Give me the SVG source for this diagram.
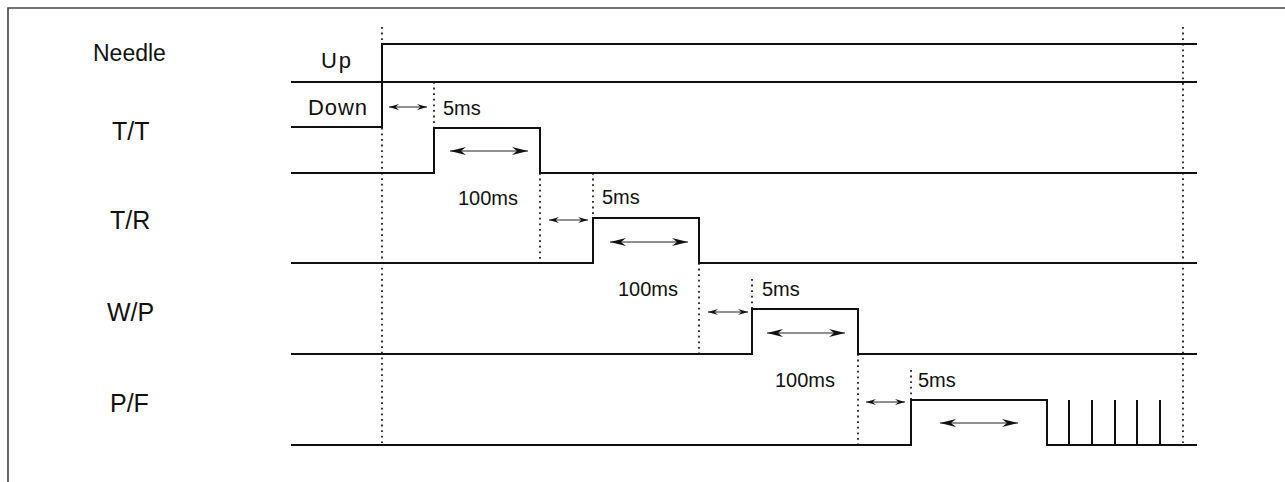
<svg xmlns="http://www.w3.org/2000/svg" width="1285" height="482" viewBox="0 0 1285 482">
<style>
.frame{fill:none;stroke:#444;stroke-width:1.6}
.wave{fill:none;stroke:#111;stroke-width:2}
.dot{fill:none;stroke:#111;stroke-width:1.7;stroke-dasharray:1.8 3.8}
.dim{fill:none;stroke:#222;stroke-width:1}
.lbl{font-family:"Liberation Sans",Arial,sans-serif;font-size:25px;fill:#111}
.t{font-family:"Liberation Sans",Arial,sans-serif;font-size:20px;fill:#111}
</style>
<defs>
<marker id="big" viewBox="0 0 16 8" refX="16" refY="4" markerWidth="16" markerHeight="8" markerUnits="userSpaceOnUse" orient="auto-start-reverse">
<path d="M0,0 L16,4 L0,8 L5,4 z" fill="#111"/>
</marker>
<marker id="sm" viewBox="0 0 10 6" refX="10" refY="3" markerWidth="10" markerHeight="6" markerUnits="userSpaceOnUse" orient="auto-start-reverse">
<path d="M0,0 L10,3 L0,6 L3.5,3 z" fill="#111"/>
</marker>
</defs>
<rect width="1285" height="482" fill="#fff"/>
<path class="frame" d="M8,482 V8 H1285"/>

<g id="labels">
<text class="lbl" x="93" y="61" style="font-size:23px">Needle</text>
<text class="lbl" x="112" y="140">T/T</text>
<text class="lbl" x="110" y="229">T/R</text>
<text class="lbl" x="107" y="321">W/P</text>
<text class="lbl" x="110" y="412">P/F</text>
</g>

<g id="needle">
<path class="wave" d="M291,127 H382 V44 H1197"/>
<path class="wave" d="M291,82 H1197"/>
<text class="t" x="321" y="68" style="font-size:22px" textLength="30">Up</text>
<text class="t" x="308" y="115" style="font-size:22px" textLength="59">Down</text>
</g>

<g id="tt">
<path class="wave" d="M291,173 H434 V128 H540 V173 H1197"/>
<text class="t" x="443" y="115">5ms</text>
<text class="t" x="458" y="205">100ms</text>
</g>

<g id="tr">
<path class="wave" d="M291,263 H593 V218 H699 V263 H1197"/>
<text class="t" x="602" y="204">5ms</text>
<text class="t" x="618" y="296">100ms</text>
</g>

<g id="wp">
<path class="wave" d="M291,354 H752 V309 H858 V354 H1197"/>
<text class="t" x="762" y="296">5ms</text>
<text class="t" x="775" y="387">100ms</text>
</g>

<g id="pf">
<path class="wave" d="M291,445 H911 V400 H1047 V445 H1197"/>
<path class="wave" d="M1069,445 V400 M1092,445 V400 M1115,445 V400 M1137,445 V400 M1160,445 V400"/>
<text class="t" x="918" y="387">5ms</text>
</g>

<g id="connectors">
<path class="dot" d="M382,27 V443 M1183,27 V443"/>
<path class="dot" d="M434,82 V128 M540,173 V263 M593,173 V218 M699,263 V354 M752,279 V309 M858,354 V445 M911,370 V400"/>
<path class="dim" marker-start="url(#sm)" marker-end="url(#sm)" d="M389,107 H427"/>
<path class="dim" marker-start="url(#sm)" marker-end="url(#sm)" d="M549,220 H588"/>
<path class="dim" marker-start="url(#sm)" marker-end="url(#sm)" d="M708,312 H748"/>
<path class="dim" marker-start="url(#sm)" marker-end="url(#sm)" d="M866,402 H905"/>
<path class="dim" marker-start="url(#big)" marker-end="url(#big)" d="M450,151 H528"/>
<path class="dim" marker-start="url(#big)" marker-end="url(#big)" d="M610,242 H688"/>
<path class="dim" marker-start="url(#big)" marker-end="url(#big)" d="M767,333 H845"/>
<path class="dim" marker-start="url(#big)" marker-end="url(#big)" d="M940,423 H1018"/>
</g>
</svg>
